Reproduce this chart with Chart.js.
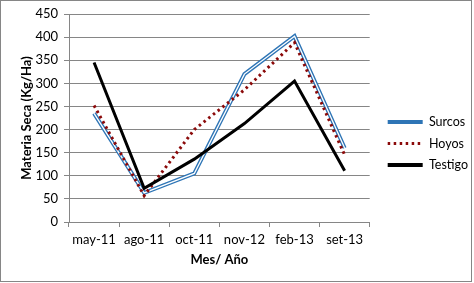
<!DOCTYPE html>
<html>
<head>
<meta charset="utf-8">
<script src="https://cdn.jsdelivr.net/npm/chart.js@4"></script>
<style>
  html, body { margin: 0; padding: 0; background: #fff; }
  #wrap { position: relative; width: 474px; height: 283px; }
</style>
</head>
<body>
<div id="wrap"><canvas id="grafico" width="474" height="283"></canvas></div>
<script>
// datos
const meses = ['may-11', 'ago-11', 'oct-11', 'nov-12', 'feb-13', 'set-13']
const surcos = [235, 63, 105, 320, 402, 160]
const hoyos = [252, 57, 200, 286, 388, 145]
const testigo = [345, 73, 136, 213, 305, 111]
const ticksY = [0, 50, 100, 150, 200, 250, 300, 350, 400, 450]

const gris = '#868686'
const fuente = 'Lato, "Open Sans", sans-serif'

//! marco gris alrededor de todo el grafico
const marco = {
    id: 'marco',
    beforeDraw(chart){
        const ctx = chart.ctx
        ctx.save()
        ctx.fillStyle = '#fff'
        ctx.fillRect(0, 0, chart.width, chart.height)
        ctx.strokeStyle = gris
        ctx.lineWidth = 1
        ctx.strokeRect(0.5, 0.5, chart.width - 3, chart.height - 2)
        ctx.restore()
    },
    //! corre la leyenda un poco a la derecha, como en el original
    afterLayout(chart){
        const ley = chart.legend
        if (ley) { ley.left += 9; ley.right += 9 }
    }
}

//! leyenda con lineas (grosor y punteado de cada serie)
function etiquetas(chart){
    return chart.data.datasets
        .map((ds, i) => ({
            text: ds.label,
            datasetIndex: i,
            strokeStyle: ds.borderColor,
            fillStyle: ds.borderColor,
            lineWidth: ds.legendWidth || ds.borderWidth,
            lineDash: ds.borderDash || [],
            lineCap: 'butt',
            pointStyle: 'line',
            hidden: false
        }))
        .filter(it => it.text !== 'interior')
}

const ctx = document.getElementById('grafico').getContext('2d')
const myChart = new Chart(ctx, {
    type: 'line',
    data: {
        labels: meses,
        datasets: [
            {
                label: 'Surcos',
                data: surcos,
                borderColor: '#2E75B6',
                borderWidth: 4,
                legendWidth: 4,
                order: 3
            },
            {
                // linea blanca interior para el efecto de linea doble
                label: 'interior',
                data: surcos,
                borderColor: '#fff',
                borderWidth: 1.3,
                order: 2
            },
            {
                label: 'Hoyos',
                data: hoyos,
                borderColor: '#8B0A0A',
                borderWidth: 3,
                borderDash: [2.5, 3.5],
                order: 1
            },
            {
                label: 'Testigo',
                data: testigo,
                borderColor: '#000',
                borderWidth: 3,
                legendWidth: 4,
                order: 0
            }
        ]
    },
    options: {
        responsive: false,
        animation: false,
        devicePixelRatio: 1,
        elements: {
            point: { radius: 0 },
            line: { tension: 0, borderCapStyle: 'butt' }
        },
        layout: { padding: { top: 14, left: 0, right: 5, bottom: 10 } },
        plugins: {
            tooltip: { enabled: false },
            legend: {
                position: 'right',
                labels: {
                    usePointStyle: true,
                    pointStyle: 'line',
                    pointStyleWidth: 35,
                    boxHeight: 13,
                    padding: 9,
                    color: '#000',
                    font: { family: fuente, size: 12.5 },
                    generateLabels: etiquetas
                }
            }
        },
        scales: {
            x: {
                offset: true,
                afterFit: scale => { scale.height = 51 },
                grid: { offset: true, drawOnChartArea: false, tickLength: 5, color: gris },
                border: { color: gris },
                ticks: { color: '#000', padding: 5, maxRotation: 0, autoSkip: false, font: { family: fuente, size: 13 } },
                title: {
                    display: true,
                    text: 'Mes/ Año',
                    color: '#000',
                    padding: { top: 0, bottom: 5 },
                    font: { family: fuente, size: 13, weight: 'bold' }
                }
            },
            y: {
                min: 0,
                max: 450,
                afterFit: scale => { scale.width = 69 },
                afterBuildTicks: scale => { scale.ticks = ticksY.map(v => ({ value: v })) },
                grid: { color: gris, tickLength: 5 },
                border: { color: gris },
                ticks: { color: '#000', padding: 6, font: { family: fuente, size: 13 } },
                title: {
                    display: true,
                    text: 'Materia Seca (Kg/Ha)',
                    color: '#000',
                    padding: { top: 19, bottom: 0 },
                    font: { family: fuente, size: 13, weight: 'bold' }
                }
            }
        }
    },
    plugins: [marco]
})
</script>
</body>
</html>
